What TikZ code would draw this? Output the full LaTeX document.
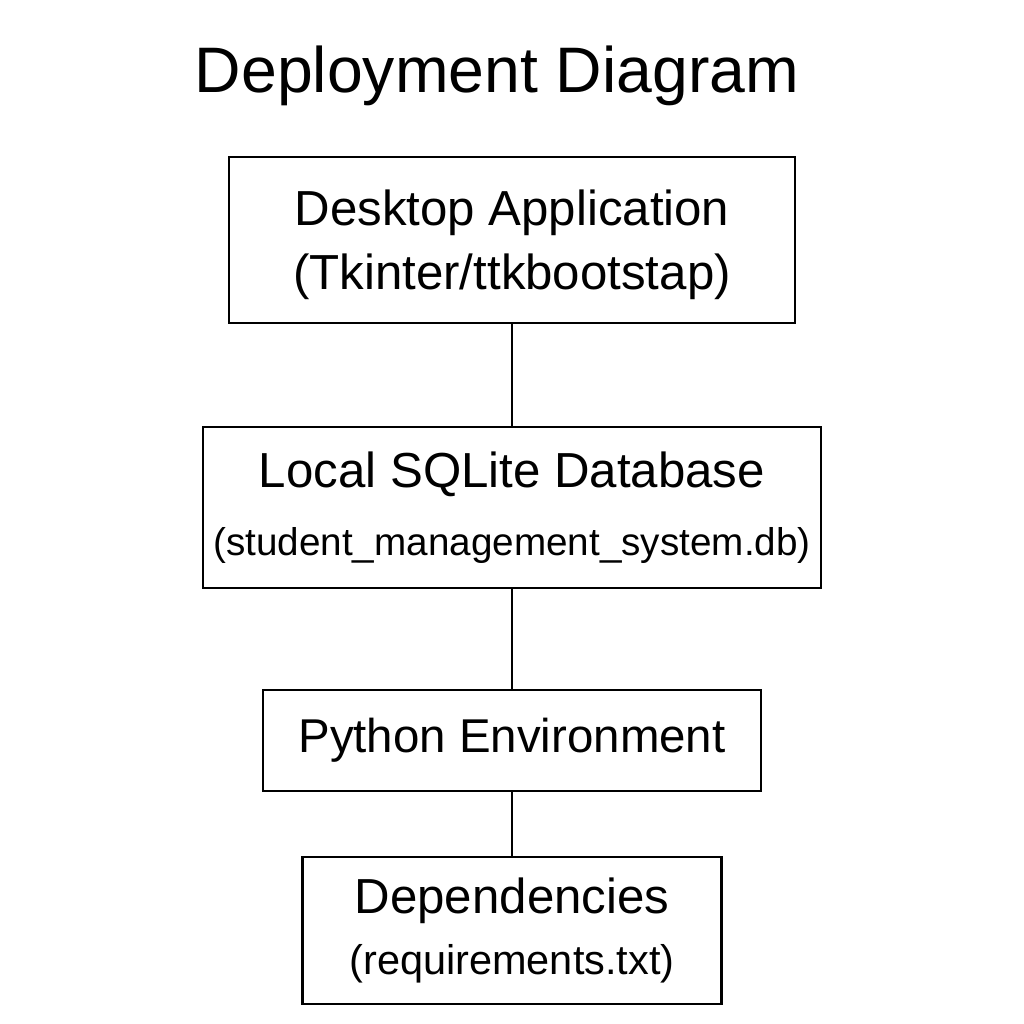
\documentclass[tikz,border=0pt]{standalone}
\usepackage{fontspec}
\setmainfont{Liberation Sans}
\usepackage{tikz}

\begin{document}
\begin{tikzpicture}[
    unit/.style={draw, line width=0.6pt, inner sep=0pt, align=center,
      font=\fontsize{14}{18.2}\selectfont},
    link/.style={line width=0.6pt}]
        \useasboundingbox (0,0) rectangle (10.24,-10.24);
        \node[font=\fontsize{18.3}{22}\selectfont] (title) at (4.97,-0.76) {Deployment Diagram};
        \node[unit, minimum width=5.66cm, minimum height=1.66cm, text depth=0pt] (app) at (5.12,-2.40)
          {\rule{0pt}{0pt}Desktop Application\\(Tkinter/ttkbootstap)};
        \node[unit, minimum width=6.18cm, minimum height=1.61cm] (db) at (5.12,-5.075)
          {Local SQLite Database\\[1pt]{\fontsize{11}{13}\selectfont (student\_management\_system.db)}};
        \node[unit, minimum width=4.98cm, minimum height=1.01cm, font=\fontsize{13.5}{16}\selectfont] (env) at (5.12,-7.405)
          {Python Environment};
        \node[unit, minimum width=4.19cm, minimum height=1.47cm] (deps) at (5.12,-9.305)
          {Dependencies\\[-1pt]{\fontsize{11.8}{13}\selectfont (requirements.txt)}};
        \draw[link] (app) -- (db);
        \draw[link] (db) -- (env);
        \draw[link] (env) -- (deps);
      \end{tikzpicture}
\end{document}
